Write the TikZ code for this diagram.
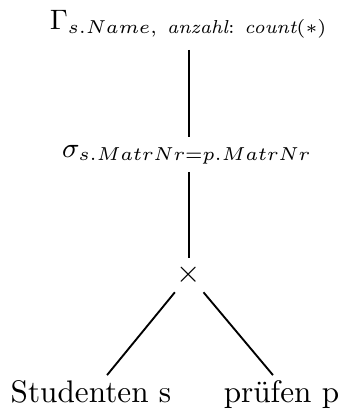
\documentclass[tikz,border=0pt]{standalone}
\usepackage{amsmath}
\usetikzlibrary{calc}
\begin{document}
\begin{tikzpicture}[x=0.3205pt,y=-0.3205pt,
  op/.style={inner sep=2pt},
  mop/.style={inner sep=2pt,font=\small},
  edge/.style={line width=0.6pt}]
\useasboundingbox (0,0) rectangle (348,414);
\node[mop,anchor=base] (g) at (189,29) {$\Gamma_{s.Name,\ \textit{anzahl}:\ \textit{count}(\ast)}$};
\node[mop,anchor=base] (s) at (187,157) {$\sigma_{s.MatrNr=p.MatrNr}$};
\node[op] (x) at (189,275) {$\times$};
\node[op,anchor=base] (st) at (91,402) {Studenten s};
\node[op,anchor=base] (pr) at (281.5,402) {prüfen p};
\draw[edge] ([yshift=-6.7pt]g.base -| x) -- ([yshift=6.4pt]s.base -| x);
\draw[edge] ([yshift=-4.8pt]s.base -| x) -- (x);
\draw[edge] (x) -- ($(st.north)+(16,2)$);
\draw[edge] (x) -- ($(pr.north)+(-8.5,2)$);
\end{tikzpicture}
\end{document}
